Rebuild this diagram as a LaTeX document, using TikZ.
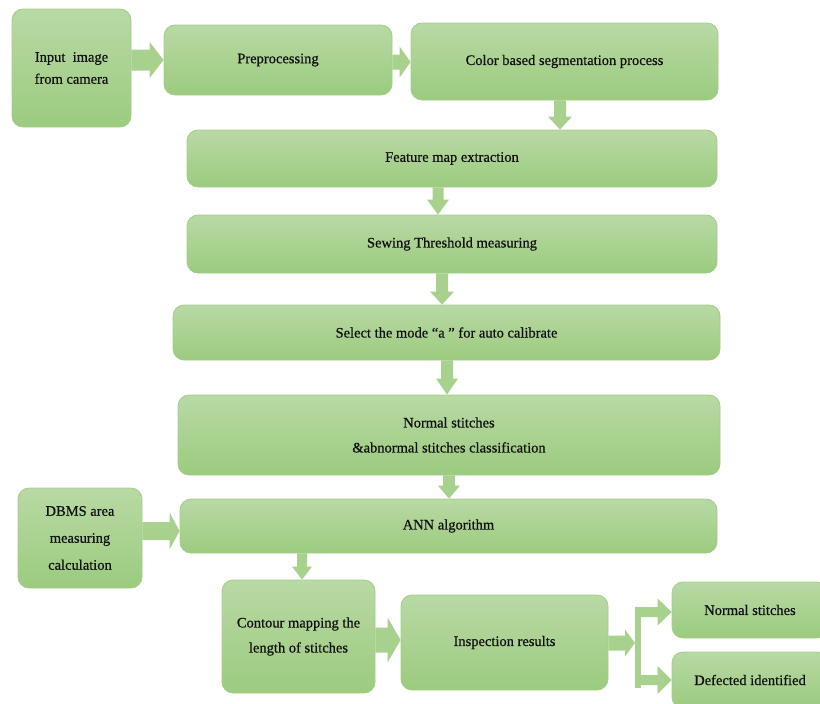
\documentclass[tikz,border=0pt]{standalone}
\usepackage{fontspec}
\setmainfont{Liberation Serif}[FakeBold=0.6]
\usetikzlibrary{calc}
\definecolor{gtop}{HTML}{B8D9A4}
\definecolor{gbot}{HTML}{9CCB7F}
\definecolor{gedge}{HTML}{A3CE88}
\definecolor{afill}{HTML}{A9D18E}
\definecolor{txt}{HTML}{111111}
% horizontal block arrow: start, end, y, half shaft, half head, head length
\newcommand{\hblk}[6]{%
 \fill[blockarrow] let \p1=(#1), \p2=(#2), \p3=(0,#3) in
  (\x1,\y3+#4) -- (\x2-#6,\y3+#4) -- (\x2-#6,\y3+#5) -- (\x2,\y3) --
  (\x2-#6,\y3-#5) -- (\x2-#6,\y3-#4) -- (\x1,\y3-#4) -- cycle;}
% vertical (downward) block arrow: start, end, x, half shaft, half head, head length
\newcommand{\vblk}[6]{%
 \fill[blockarrow] let \p1=(#1), \p2=(#2), \p3=(#3,0) in
  (\x3-#4,\y1) -- (\x3-#4,\y2+#6) -- (\x3-#5,\y2+#6) -- (\x3,\y2) --
  (\x3+#5,\y2+#6) -- (\x3+#4,\y2+#6) -- (\x3+#4,\y1) -- cycle;}
\tikzset{
  box/.style={draw=gedge, line width=0.8pt, rounded corners=11pt,
    top color=gtop, bottom color=gbot, text=txt, align=center,
    inner sep=0pt, font=\fontsize{14.5}{24}\selectfont},
  blockarrow/.style={fill=afill}
}
\begin{document}
\begin{tikzpicture}[x=1pt,y=-1pt]
\useasboundingbox (0,0) rectangle (820,704);
\clip (0,0) rectangle (820,704);

\node[box, minimum width=119pt, minimum height=118pt, font=\fontsize{14.5}{22}\selectfont] (inp) at (71.5,68) {Input~ image\\from camera};
\node[box, minimum width=228pt, minimum height=70pt] (pre) at (278,60) {Preprocessing};
\node[box, minimum width=307pt, minimum height=77pt] (col) at (564.5,61.5) {Color based segmentation process};
\node[box, minimum width=530pt, minimum height=57pt] (feat) at (452,158.5) {Feature map extraction};
\node[box, minimum width=530pt, minimum height=58pt] (sew) at (452,244) {Sewing Threshold measuring};
\node[box, minimum width=547pt, minimum height=55pt] (sel) at (446.5,332.5) {Select the mode “a ” for auto calibrate};
\node[box, minimum width=542pt, minimum height=80pt, font=\fontsize{14.5}{25}\selectfont] (na) at (449,435) {Normal stitches\\\&abnormal stitches classification};
\node[box, minimum width=537pt, minimum height=54pt] (ann) at (448.5,526) {ANN algorithm};
\node[box, minimum width=124pt, minimum height=100pt, font=\fontsize{14.5}{27}\selectfont] (dbms) at (80,538) {DBMS area\\measuring\\calculation};
\node[box, minimum width=153pt, minimum height=113pt, font=\fontsize{14.5}{25}\selectfont] (con) at (298.5,636.5) {Contour mapping the\\length of stitches};
\node[box, minimum width=207pt, minimum height=95pt] (insp) at (504.5,642.5) {Inspection results};
\node[box, minimum width=156pt, minimum height=56pt] (ns) at (750,610) {Normal stitches};
\node[box, minimum width=156pt, minimum height=56pt] (di) at (750,680) {Defected identified};

\coordinate (split) at (635,643);

\hblk{inp.east}{pre.west}{60}{10.5pt}{18pt}{14pt}
\hblk{pre.east}{col.west}{62}{7.5pt}{15.5pt}{11pt}
\vblk{col.south}{feat.north}{560}{6pt}{12pt}{13pt}
\vblk{feat.south}{sew.north}{438}{5.5pt}{11pt}{15pt}
\vblk{sew.south}{sel.north}{442}{6pt}{12pt}{13pt}
\vblk{sel.south}{na.north}{447}{6pt}{11pt}{16pt}
\vblk{na.south}{ann.north}{449}{6pt}{11pt}{13pt}
\hblk{dbms.east}{ann.west}{531}{9pt}{18.5pt}{10pt}
\vblk{ann.south}{con.north}{302}{5pt}{10pt}{13pt}
\hblk{con.east}{insp.west}{640}{12.5pt}{22.5pt}{13pt}
\hblk{insp.east}{split}{643}{7.5pt}{13.5pt}{10pt}
\fill[blockarrow] ($(split)+(0,-33)$) rectangle ($(split)+(6,45)$);
\hblk{split}{ns.west}{612}{5pt}{13.5pt}{14pt}
\hblk{split}{di.west}{680}{5pt}{14pt}{14pt}
\end{tikzpicture}
\end{document}
